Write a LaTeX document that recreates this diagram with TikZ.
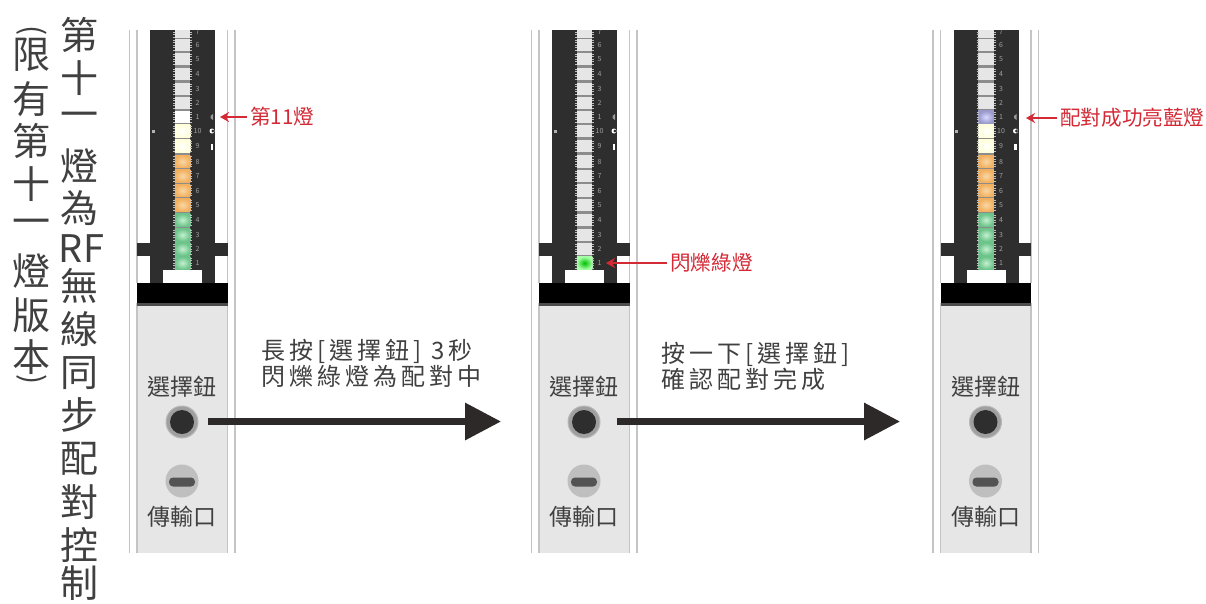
\documentclass[tikz,border=0pt]{standalone}
\usepackage{fontspec}
\setmainfont{Noto Sans CJK TC}
\newfontfamily\spacedcjk[LetterSpace=17]{Noto Sans CJK TC}
\usetikzlibrary{arrows.meta}
\definecolor{bodydark}{HTML}{2E2E2E}
\definecolor{panelgray}{HTML}{E6E6E6}
\definecolor{railgray}{HTML}{C4C4C4}
\definecolor{arrowdark}{HTML}{2D2929}
\definecolor{redmark}{HTML}{D42A36}
\definecolor{inktext}{HTML}{404040}
\definecolor{orangeout}{HTML}{F2B05E}
\definecolor{orangein}{HTML}{F9D7A6}
\definecolor{greenout}{HTML}{6CC48A}
\definecolor{greenin}{HTML}{C4F0D0}
\definecolor{ledgap}{HTML}{8C8C8C}
\newcommand{\fsz}[1]{\fontsize{#1}{#1}\selectfont}
\tikzset{
  rail/.style={draw=railgray,line width=1.4pt},
  led/.style={rectangle,minimum width=15.5pt,minimum height=12.6pt,inner sep=0pt,outer sep=0pt},
  ledoff/.style={fill=panelgray},
  ledwhite/.style={fill=white},
  ledcream/.style={inner color=white,outer color=yellow!14!white},
  ledorange/.style={inner color=orangein,outer color=orangeout},
  ledgreen/.style={inner color=greenin,outer color=greenout},
  ledflash/.style={inner color=green!75!black,outer color=green!35!white},
  ledblue/.style={inner color=white!85!blue,outer color=blue!50!black!40!white},
  numlabel/.style={font=\fsz{7},text=gray!75!white,inner sep=0pt},
  devlabel/.style={font=\fsz{23},text=inktext,inner sep=0pt},
  vchar/.style={font=\fsz{38},text=inktext,inner sep=0pt},
  vparen/.style={font=\fsz{30},text=inktext,inner sep=0pt,rotate=-90},
  steptext/.style={font=\fsz{24}\spacedcjk,text=inktext,inner sep=0pt,anchor=west},
  redlabel/.style={font=\fsz{20.6},text=redmark,inner sep=0pt,anchor=west},
  redarrow/.style={draw=redmark,line width=2pt,-{Stealth[length=9pt,width=10pt]}},
  mainarrow/.style={draw=arrowdark,line width=6.5pt,-{Triangle[length=36pt,width=36pt]}},
}
\newcommand{\panel}[3]{%
\begin{scope}[xshift=#1pt]
  \draw[rail] (129.5,30) -- (129.5,553);
  \draw[rail] (137,30) -- (137,283);
  \draw[rail] (227.5,30) -- (227.5,283);
  \draw[rail] (235,30) -- (235,553);
  \fill[panelgray] (137,303) rectangle (227.5,553);
  \draw[rail] (137,303) -- (137,553);
  \draw[rail] (227.5,303) -- (227.5,553);
  \fill[bodydark] (150,30) rectangle (215,283);
  \fill[bodydark] (137,243) rectangle (227.5,255.5);
  \fill[ledgap] (174.75,30) rectangle (190.25,269);
  \fill[white] (163,270) rectangle (202,283);
  \fill[black] (137,283) rectangle (227.5,303);
  \fill[gray!60!black] (137,303) rectangle (227.5,306);
  \begin{scope}
    \clip (150,30) rectangle (215,283);
    \foreach \yy/\nn/\kk in {#2}{
      \node[led,led\kk] (#3-led\yy) at (182.5,\yy) {};
      \foreach \dd in {-5,-2.5,0,2.5,5}{
        \draw[gray!50!white,line width=.5pt] (173,\yy+\dd) -- (175,\yy+\dd) (190,\yy+\dd) -- (192,\yy+\dd);
      }
      \node[numlabel] (#3-num\yy) at (197.5,\yy) {\nn};
    }
  \end{scope}
  \fill[gray!60!white] (151.5,130) rectangle (154.5,132.5);
  \fill[gray!80!white] (210.5,116) -- (213,114) -- (213,120) -- (210.5,118) -- cycle;
  \fill[white] (212,131) circle (2.5);
  \fill[bodydark] (213,131) circle (1.6);
  \fill[white] (210.8,143.5) rectangle (213.2,149.5);
  \node[devlabel] (#3-sel) at (182,387) {選擇鈕};
  \node[circle,draw=gray!55!white,line width=1pt,fill=gray!75!white,minimum size=32pt,inner sep=0pt] (#3-btnring) at (182,422) {};
  \node[circle,fill=bodydark,minimum size=24pt,inner sep=0pt] (#3-btn) at (182,422) {};
  \node[circle,fill=gray!50!white,minimum size=33pt,inner sep=0pt] (#3-port) at (182,481) {};
  \node[rectangle,rounded corners=4pt,fill=gray!65!black,minimum width=26pt,minimum height=9pt,inner sep=0pt] (#3-slot) at (182,482) {};
  \node[devlabel] (#3-trans) at (182,517) {傳輸口};
\end{scope}}
\begin{document}
\begin{tikzpicture}[x=1pt,y=-1pt]
\useasboundingbox (0,0) rectangle (1206,603);
\fill[white] (0,0) rectangle (1206,603);
% vertical title, right column
\foreach \cc/\yy [count=\i] in {第/35,十/78,一/120,燈/166,為/208,無/286,線/329,同/373,步/415,配/459,對/502,控/545,制/583}{
  \node[vchar] (ta\i) at (79.5,\yy) {\cc};
}
\node[vchar] (tarf) at (81.5,249) {RF};
% vertical title, left column
\node[vparen] (tbo) at (32,31) {(};
\foreach \cc/\yy [count=\i] in {限/55,有/99,第/141,十/184,一/227,燈/271,版/315,本/357}{
  \node[vchar] (tb\i) at (31.5,\yy) {\cc};
}
\node[vparen] (tbc) at (32,380) {)};
% panels
\panel{0}{32/7/off,45/6/off,59/5/off,74/4/off,89/3/off,103/2/off,117/1/white,131/10/cream,146/9/cream,161.5/8/orange,176/7/orange,190.5/6/orange,205/5/orange,220/4/green,235/3/green,249/2/green,263/1/green}{pa}
\panel{402}{32/7/off,45/6/off,59/5/off,74/4/off,89/3/off,103/2/off,117/1/off,131/10/off,146/9/off,161.5/8/off,176/7/off,190.5/6/off,205/5/off,220/4/off,235/3/off,249/2/off,263/1/flash}{pb}
\panel{803.5}{32/7/off,45/6/off,59/5/off,74/4/off,89/3/off,103/2/off,117/1/blue,131/10/cream,146/9/cream,161.5/8/orange,176/7/orange,190.5/6/orange,205/5/orange,220/4/green,235/3/green,249/2/green,263/1/green}{pc}
% step texts
\node[steptext] (s1a) at (261,351) {長按[選擇鈕] 3秒};
\node[steptext] (s1b) at (261,376.5) {閃爍綠燈為配對中};
\node[steptext] (s2a) at (661,354) {按一下[選擇鈕]};
\node[steptext] (s2b) at (661,379) {確認配對完成};
% main arrows
\coordinate (m1s) at (208,421.5);
\coordinate (m1e) at (501,421.5);
\coordinate (m2s) at (617,421.5);
\coordinate (m2e) at (900,421.5);
\draw[mainarrow] (m1s) -- (m1e);
\draw[mainarrow] (m2s) -- (m2e);
% red callouts
\node[redlabel] (r1) at (250,117) {第11燈};
\node[redlabel] (r2) at (670,263) {閃爍綠燈};
\node[redlabel] (r3) at (1060,118) {配對成功亮藍燈};
\coordinate (r1t) at (220,117);
\coordinate (r2t) at (606,263);
\coordinate (r3t) at (1026,118);
\draw[redarrow] (r1.west) ++(-3,0) -- (r1t);
\draw[redarrow] (r2.west) ++(-3,0) -- (r2t);
\draw[redarrow] (r3.west) ++(-3,0) -- (r3t);
\end{tikzpicture}
\end{document}
